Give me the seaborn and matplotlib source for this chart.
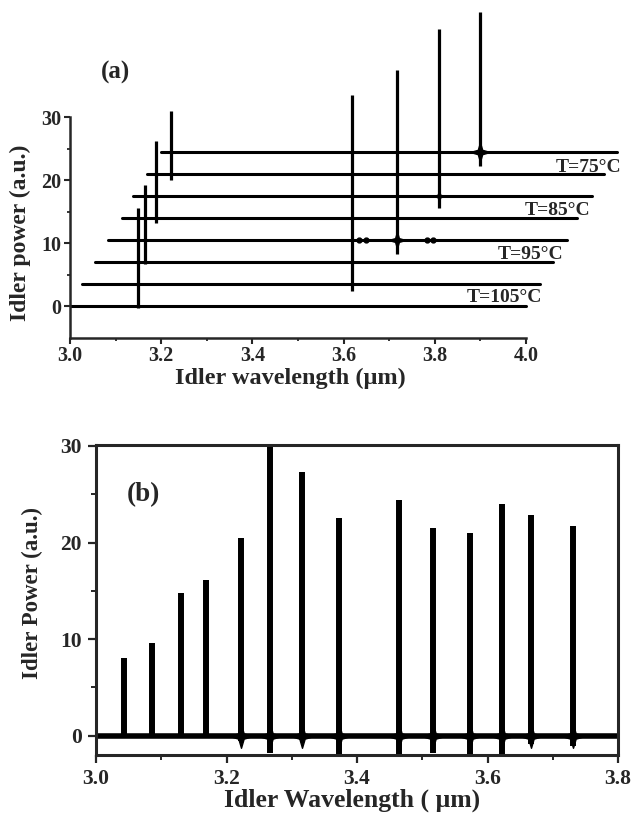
import matplotlib
matplotlib.use("Agg")
import matplotlib.pyplot as plt
import seaborn as sns
from matplotlib.path import Path
from matplotlib.ticker import FixedLocator

# (a) idler traces at different temperatures, stacked with offsets
offsets_a = [0, 3.5, 7, 10.5, 14, 17.5, 21, 24.5]
starts_a = [3.000, 3.026, 3.055, 3.083, 3.114, 3.138, 3.169, 3.200]
ends_a = [4.000, 4.030, 4.060, 4.090, 4.112, 4.145, 4.170, 4.200]
peak_wl_a = [3.150, 3.618, 3.165, 3.716, 3.189, 3.809, 3.222, 3.899]
peak_top_a = [15.6, 30.1, 12.3, 27.0, 12.3, 26.5, 10.1, 22.3]
peak_dip_a = [-0.3, -1.0, -0.2, -2.1, -0.7, -1.9, -0.9, -2.2]
blob_size_a = [0, 0, 0, 12, 0, 8, 0, 14]
bump_wl_a = [3.634, 3.650, 3.782, 3.796]   # noise bumps on trace 3
temp_labels = ["T=75°C", "T=85°C", "T=95°C", "T=105°C"]
temp_x = [4.136, 4.070, 4.009, 3.952]
temp_y = [21.4, 14.5, 7.6, 0.7]   # text baselines

# (b) idler spectrum
peak_wl_b = [3.043, 3.086, 3.130, 3.168, 3.222, 3.266, 3.315,
             3.373, 3.464, 3.517, 3.573, 3.622, 3.667, 3.731]
peak_top_b = [8.0, 9.6, 14.8, 16.1, 20.5, 31.0, 27.3,
              22.5, 24.4, 21.5, 21.0, 24.0, 22.8, 21.7]
peak_dip_b = [0, 0, 0, 0, -0.5, -1.8, -0.4,
              -2.0, -2.0, -1.8, -2.0, -2.0, -0.9, -1.1]

sns.set_style("ticks")
plt.rcParams["font.family"] = ["Liberation Serif", "DejaVu Serif"]
plt.rcParams["font.weight"] = "bold"
plt.rcParams["axes.labelweight"] = "bold"

# four-pointed star for the flared base of the lines
flare = Path.unit_regular_star(4, 0.32)

fig = plt.figure(figsize=(6.35, 8.15), dpi=100)

# ---------------- panel (a) ----------------
ax = fig.add_axes([70 / 635, 477 / 815, 560 / 635, 328 / 815])
for s, e, off in zip(starts_a, ends_a, offsets_a):
    sns.lineplot(x=[s, e], y=[off, off], ax=ax, color="black", lw=2.2)
for i, (p, t, d) in enumerate(zip(peak_wl_a, peak_top_a, peak_dip_a)):
    off = offsets_a[i]
    ax.vlines(p, off + d, off + t, color="black", lw=2.3)
    if blob_size_a[i]:
        ax.plot(p, off, ls="", marker=flare, ms=blob_size_a[i], color="black")
ax.plot(bump_wl_a, [offsets_a[3]] * len(bump_wl_a), ls="", marker="o", ms=3.5, color="black")

for lab, x, y in zip(temp_labels, temp_x, temp_y):
    ax.text(x, y, lab, ha="center", va="baseline", fontsize=14, fontweight="bold")

ax.set_xlim(3.0, 4.228)
ax.set_ylim(-5, 47.06)
sns.despine(ax=ax)
ax.spines["left"].set_bounds(-5, 30)
ax.spines["bottom"].set_bounds(3.0, 4.0)
for sp in ax.spines.values():
    sp.set_linewidth(1.8)
ax.xaxis.set_major_locator(FixedLocator([3.0, 3.2, 3.4, 3.6, 3.8, 4.0]))
ax.xaxis.set_minor_locator(FixedLocator([3.1, 3.3, 3.5, 3.7, 3.9]))
ax.yaxis.set_major_locator(FixedLocator([0, 10, 20, 30]))
ax.yaxis.set_minor_locator(FixedLocator([5, 15, 25]))
ax.set_xticklabels(["3.0", "3.2", "3.4", "3.6", "3.8", "4.0"])
ax.tick_params(which="major", direction="out", length=4, width=1.5, labelsize=14.5, pad=2)
ax.tick_params(which="minor", direction="out", length=2.5, width=1.3)
ax.set_xlabel("Idler wavelength (μm)", fontsize=17.5)
ax.set_ylabel("Idler power (a.u.)", fontsize=17)
ax.xaxis.set_label_coords(0.393, -0.122)
ax.xaxis.label.set_va("center")
ax.yaxis.set_label_coords(-0.089, 0.32)
ax.yaxis.label.set_va("center")
fig.text(115 / 635, 1 - 72 / 815, "(a)", ha="center", va="center", fontsize=18, fontweight="bold")

# ---------------- panel (b) ----------------
bx = fig.add_axes([96 / 635, 60 / 815, 522 / 635, 310 / 815])
sns.lineplot(x=[3.0, 3.8], y=[0, 0], ax=bx, color="black", lw=4.0)
bx.vlines(peak_wl_b, peak_dip_b, peak_top_b, color="black", lw=4.3)
skirt_wl = [p for p, d in zip(peak_wl_b, peak_dip_b) if d < 0]
bx.plot(skirt_wl, [0] * len(skirt_wl), ls="", marker=flare, ms=17, color="black")

bx.set_xlim(3.0, 3.8)
bx.set_ylim(-2, 30.1)
for sp in bx.spines.values():
    sp.set_visible(True)
    sp.set_linewidth(2.2)
bx.xaxis.set_major_locator(FixedLocator([3.0, 3.2, 3.4, 3.6, 3.8]))
bx.xaxis.set_minor_locator(FixedLocator([3.1, 3.3, 3.5, 3.7]))
bx.yaxis.set_major_locator(FixedLocator([0, 10, 20, 30]))
bx.yaxis.set_minor_locator(FixedLocator([5, 15, 25]))
bx.set_xticklabels(["3.0", "3.2", "3.4", "3.6", "3.8"])
bx.tick_params(which="major", direction="out", length=6, width=1.6, labelsize=15.5, pad=4)
bx.tick_params(which="minor", direction="out", length=3.5, width=1.4)
bx.set_xlabel("Idler Wavelength ( μm)", fontsize=18.5)
bx.set_ylabel("Idler Power (a.u.)", fontsize=16.5)
bx.xaxis.set_label_coords(0.49, -0.145)
bx.xaxis.label.set_va("center")
bx.yaxis.set_label_coords(-0.1226, 0.523)
bx.yaxis.label.set_va("center")
bx.text(0.09, 0.84, "(b)", transform=bx.transAxes, ha="center", va="center",
        fontsize=19.5, fontweight="bold")

fig.savefig("out.png", dpi=100)
